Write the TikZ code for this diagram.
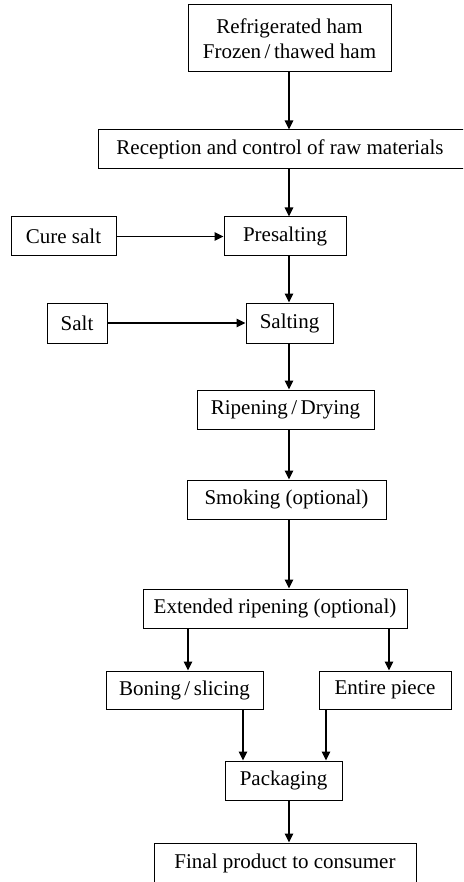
\documentclass[tikz,border=0pt]{standalone}
\usepackage{fontspec}
\setmainfont{Liberation Serif}
\usetikzlibrary{arrows.meta}

\begin{document}
\begin{tikzpicture}[x=1pt, y=-1pt,
      box/.style = {draw, line width=1pt, inner sep=0pt, minimum height=39pt,
                    font=\fontsize{21}{25}\selectfont},
      flow/.style = {line width=1.4pt, -{Triangle[length=9pt, width=8.5pt]}}]
    \clip (0,0) rectangle (463,882);

    % nodes
    \node[box, minimum width=203pt, minimum height=67pt, align=center] (ham) at (289.5, 38.5)
        {Refrigerated ham\\Frozen\,/\,thawed ham};
    \node[box, minimum width=370pt] (recep) at (283, 149.5) {\hspace*{-6pt}Reception and control of raw materials};
    \node[box, minimum width=105pt] (cure) at (63.5, 236.5) {Cure salt};
    \node[box, minimum width=122pt] (presalt) at (285, 236.5) {Presalting};
    \node[box, minimum width=60pt, minimum height=40pt] (salt) at (77, 323) {Salt};
    \node[box, minimum width=87pt, minimum height=40pt] (salting) at (289.5, 323) {Salting};
    \node[box, minimum width=177pt] (ripen) at (285.5, 409.5) {Ripening\,/\,Drying};
    \node[box, minimum width=199pt] (smoke) at (286.5, 499.5) {Smoking (optional)};
    \node[box, minimum width=264pt] (extend) at (275, 608.5) {Extended ripening (optional)};
    \node[box, minimum width=157pt, minimum height=38pt] (boning) at (184.5, 690) {Boning\,/\,slicing};
    \node[box, minimum width=132pt, minimum height=38pt] (entire) at (385, 690) {Entire piece};
    \node[box, minimum width=117pt] (pack) at (283.5, 780.5) {Packaging};
    \node[box, minimum width=262pt, minimum height=40pt] (final) at (285, 863) {Final product to consumer};

    % vertical lines of the arrows
    \coordinate (axis) at (289, 0);
    \coordinate (bl) at (188, 0);
    \coordinate (er) at (389, 0);
    \coordinate (bp) at (243, 0);
    \coordinate (ep) at (326, 0);

    % edges
    \draw[flow] (ham.south -| axis) -- (recep.north -| axis);
    \draw[flow] (recep.south -| axis) -- (presalt.north -| axis);
    \draw[flow] (cure) -- (presalt);
    \draw[flow] (presalt.south -| axis) -- (salting.north -| axis);
    \draw[flow] (salt) -- (salting);
    \draw[flow] (salting.south -| axis) -- (ripen.north -| axis);
    \draw[flow] (ripen.south -| axis) -- (smoke.north -| axis);
    \draw[flow] (smoke.south -| axis) -- (extend.north -| axis);
    \draw[flow] (extend.south -| bl) -- (boning.north -| bl);
    \draw[flow] (extend.south -| er) -- (entire.north -| er);
    \draw[flow] (boning.south -| bp) -- (pack.north -| bp);
    \draw[flow] (entire.south -| ep) -- (pack.north -| ep);
    \draw[flow] (pack.south -| axis) -- (final.north -| axis);
\end{tikzpicture}
\end{document}
